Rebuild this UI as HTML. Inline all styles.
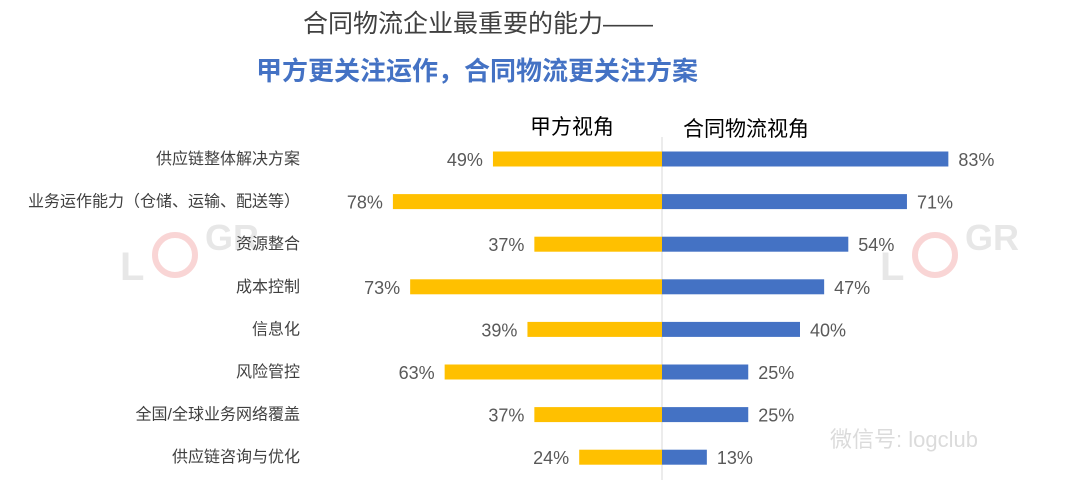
<!DOCTYPE html>
<html><head><meta charset="utf-8"><style>
body{margin:0;width:1080px;height:490px;background:#fff;overflow:hidden;font-family:"Liberation Sans","Noto Sans CJK SC",sans-serif}
svg{display:block}
</style></head><body>
<svg id="c" width="1080" height="490">
<text x="478" y="32" text-anchor="middle" font-size="25" fill="#404040" font-family="Liberation Sans,Noto Sans CJK SC,sans-serif">合同物流企业最重要的能力——</text>
<text x="477" y="80" text-anchor="middle" font-size="26" font-weight="bold" fill="#4472C4" font-family="Liberation Sans,Noto Sans CJK SC,sans-serif">甲方更关注运作，合同物流更关注方案</text>
<text x="572" y="134" text-anchor="middle" font-size="21" fill="#000" font-family="Liberation Sans,Noto Sans CJK SC,sans-serif">甲方视角</text>
<text x="746" y="136" text-anchor="middle" font-size="21" fill="#000" font-family="Liberation Sans,Noto Sans CJK SC,sans-serif">合同物流视角</text>
<line x1="662" y1="137" x2="662" y2="480" stroke="#d9d9d9" stroke-width="1"/>
<g id="wm" opacity="0.35" font-family="Liberation Sans,Noto Sans CJK SC,sans-serif">
<text x="120" y="280" font-size="40" font-weight="bold" fill="#bbb">L</text>
<circle cx="175" cy="255" r="20" fill="none" stroke="#e88" stroke-width="6"/>
<text x="205" y="250" font-size="36" font-weight="bold" fill="#bbb">GR</text>
<text x="880" y="280" font-size="40" font-weight="bold" fill="#bbb">L</text>
<circle cx="935" cy="255" r="20" fill="none" stroke="#e88" stroke-width="6"/>
<text x="965" y="250" font-size="36" font-weight="bold" fill="#bbb">GR</text>
<text x="830" y="447" font-size="22" fill="#999">微信号: logclub</text>
</g>
</svg>
<script>
const categories=["供应链整体解决方案","业务运作能力（仓储、运输、配送等）","资源整合","成本控制","信息化","风险管控","全国/全球业务网络覆盖","供应链咨询与优化"];
const clientValues=[49,78,37,73,39,63,37,24];
const logisticsValues=[83,71,54,47,40,25,25,13];
const svg=document.getElementById('c');
const NS='http://www.w3.org/2000/svg';
const cx=662,scale=3.45,y0=159,step=42.6,bh=15;
const yPos=i=>y0+i*step;
const xLen=v=>v*scale;
function mk(tag,attrs){const e=document.createElementNS(NS,tag);for(const k in attrs)e.setAttribute(k,attrs[k]);svg.appendChild(e);return e;}
const font="Liberation Sans,Noto Sans CJK SC,sans-serif";
categories.forEach((c,i)=>{
  const y=yPos(i);
  const t=mk('text',{x:300,y:y+5,'text-anchor':'end','font-size':16,fill:'#404040','font-family':font});
  t.textContent=c;
  
  
  const lv=clientValues[i],rv=logisticsValues[i];
  const lb=mk('rect',{x:cx-xLen(lv),y:y-bh/2,width:xLen(lv),height:bh,fill:'#FFC000'});
  
  
  const rb=mk('rect',{x:cx,y:y-bh/2,width:xLen(rv),height:bh,fill:'#4472C4'});
  
  
  const lt=mk('text',{x:cx-xLen(lv)-10,y:y+7,'text-anchor':'end','font-size':18,fill:'#595959','font-family':font});
  lt.textContent=lv+'%';
  
  
  const rt=mk('text',{x:cx+xLen(rv)+10,y:y+7,'text-anchor':'start','font-size':18,fill:'#595959','font-family':font});
  rt.textContent=rv+'%';
  
  
});
</script>
</body></html>
